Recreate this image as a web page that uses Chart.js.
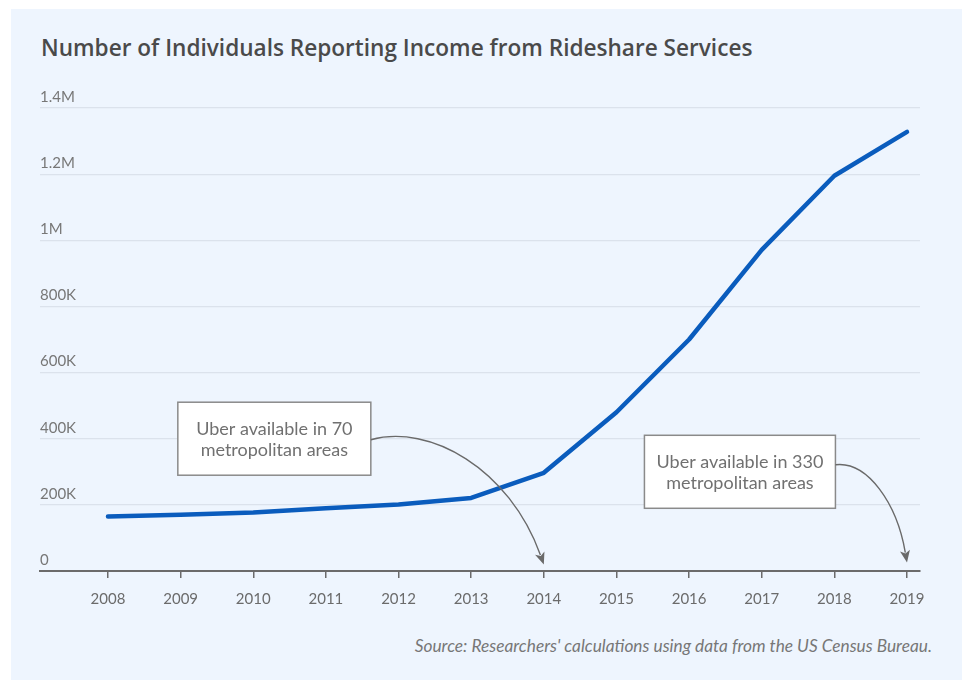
<!DOCTYPE html>
<html>
<head>
<meta charset="utf-8">
<script src="https://cdn.jsdelivr.net/npm/chart.js@4/dist/chart.umd.min.js"></script>
<style>
  html, body { margin: 0; padding: 0; background: #ffffff; }
  body { width: 962px; height: 680px; position: relative; overflow: hidden; }
  #panel { position: absolute; left: 11px; top: 9px; right: 0; bottom: 0; background: #eef5fe; }
  #title { position: absolute; left: 41px; top: 33px; margin: 0; font-family: "Open Sans", Lato, sans-serif; font-weight: 600; font-size: 22.6px; color: #4a4a4a; white-space: nowrap; line-height: 30px; }
  #source { position: absolute; right: 30px; top: 636px; font-family: Lato, "Noto Sans", sans-serif; font-style: italic; font-size: 17.3px; color: #777777; white-space: nowrap; line-height: 20px; }
  #wrap { position: absolute; left: 0; top: 0; width: 962px; height: 680px; }
</style>
</head>
<body>
<div id="panel"></div>
<h1 id="title">Number of Individuals Reporting Income from Rideshare Services</h1>
<div id="source">Source: Researchers' calculations using data from the US Census Bureau.</div>
<div id="wrap"><canvas id="c" width="962" height="680"></canvas></div>
<script>
// ---- data ----
const years = [2008, 2009, 2010, 2011, 2012, 2013, 2014, 2015, 2016, 2017, 2018, 2019];
const individuals = [165000, 170000, 177000, 190000, 201000, 221000, 297000, 480000, 700000, 971000, 1195000, 1328000];
const yTickValues = [0, 200000, 400000, 600000, 800000, 1000000, 1200000, 1400000];
const yTickLabels = ['0', '200K', '400K', '600K', '800K', '1M', '1.2M', '1.4M'];
const noteLines1 = ['Uber available in 70', 'metropolitan areas'];
const noteLines2 = ['Uber available in 330', 'metropolitan areas'];
// annotation anchors in data coordinates: [box centre x, box centre y, arrow target x, arrow target y]
const noteAnchor1 = [2010.29, 400000, 2014, 20000];
const noteAnchor2 = [2016.70, 300000, 2019, 26000];

const FONT = 'Lato, "Noto Sans", sans-serif';

const notes = [
  { lines: noteLines1, anchor: noteAnchor1, w: 193, h: 73, startDy: 1, c1: [0.34, -0.13], c2: [0.80, 0.23] },
  { lines: noteLines2, anchor: noteAnchor2, w: 191, h: 73, startDy: -7, c1: [0.45, -0.04], c2: [0.86, 0.40] }
];

const annotationPlugin = {
  id: 'notes',
  afterDatasetsDraw(chart) {
    const ctx = chart.ctx;
    const xs = chart.scales.x, ys = chart.scales.y;
    ctx.save();
    notes.forEach(n => {
      const cx = xs.getPixelForValue(n.anchor[0]);
      const cy = ys.getPixelForValue(n.anchor[1]);
      const tx = xs.getPixelForValue(n.anchor[2]);
      const ty = ys.getPixelForValue(n.anchor[3]);
      const left = cx - n.w / 2, top = cy - n.h / 2;
      // box
      ctx.fillStyle = '#ffffff';
      ctx.fillRect(left, top, n.w, n.h);
      ctx.strokeStyle = '#8a8a8a';
      ctx.lineWidth = 1.5;
      ctx.strokeRect(left, top, n.w, n.h);
      // text
      ctx.fillStyle = '#707070';
      ctx.font = '18px ' + FONT;
      ctx.textAlign = 'center';
      ctx.textBaseline = 'middle';
      ctx.fillText(n.lines[0], cx, cy - 10);
      ctx.fillText(n.lines[1], cx, cy + 11);
      // arrow
      const sx = left + n.w, sy = cy + n.startDy;
      const dx = tx - sx, dy = ty - sy;
      const p1x = sx + n.c1[0] * dx, p1y = sy + n.c1[1] * dy;
      const p2x = sx + n.c2[0] * dx, p2y = sy + n.c2[1] * dy;
      const ang = Math.atan2(ty - p2y, tx - p2x);
      const hl = 12, hw = 5;
      const bx = tx - Math.cos(ang) * hl, by = ty - Math.sin(ang) * hl;
      ctx.strokeStyle = '#6a6a6a';
      ctx.lineWidth = 1.4;
      ctx.beginPath();
      ctx.moveTo(sx, sy);
      ctx.bezierCurveTo(p1x, p1y, p2x, p2y, bx + Math.cos(ang) * 2, by + Math.sin(ang) * 2);
      ctx.stroke();
      ctx.fillStyle = '#6a6a6a';
      ctx.beginPath();
      ctx.moveTo(tx, ty);
      ctx.lineTo(bx - Math.sin(ang) * hw, by + Math.cos(ang) * hw);
      ctx.lineTo(bx + Math.cos(ang) * 3, by + Math.sin(ang) * 3);
      ctx.lineTo(bx + Math.sin(ang) * hw, by - Math.cos(ang) * hw);
      ctx.closePath();
      ctx.fill();
    });
    ctx.restore();
  }
};

new Chart(document.getElementById('c'), {
  type: 'line',
  data: {
    datasets: [{
      data: years.map((y, i) => ({ x: y, y: individuals[i] })),
      borderColor: '#0a5cbd',
      borderWidth: 4.5,
      pointRadius: 0,
      tension: 0,
      borderCapStyle: 'round',
      borderJoinStyle: 'round',
      fill: false
    }]
  },
  options: {
    responsive: false,
    animation: false,
    devicePixelRatio: 1,
    layout: { padding: { left: 40, right: 42, top: 108, bottom: 60 } },
    plugins: { legend: { display: false }, tooltip: { enabled: false }, title: { display: false } },
    scales: {
      x: {
        type: 'linear',
        min: 2007.064,
        max: 2019.179,
        afterBuildTicks: axis => { axis.ticks = years.map(v => ({ value: v })); },
        ticks: {
          callback: v => String(v),
          font: { family: FONT, size: 15 },
          color: '#6b6b6b',
          padding: 12,
          maxRotation: 0,
          autoSkip: false
        },
        grid: { display: true, drawOnChartArea: false, drawTicks: true, tickLength: 7, color: '#6b6b6b', lineWidth: 1.5 },
        border: { display: true, color: '#6b6b6b', width: 2 }
      },
      y: {
        min: 0,
        max: 1400000,
        afterBuildTicks: axis => { axis.ticks = yTickValues.map(v => ({ value: v })); },
        ticks: {
          callback: (v, i) => yTickLabels[i],
          mirror: true,
          padding: 0,
          labelOffset: -11,
          font: { family: FONT, size: 15 },
          color: '#777777'
        },
        grid: { color: '#dbe2ec', lineWidth: 1.2, drawTicks: false },
        border: { display: false }
      }
    }
  },
  plugins: [annotationPlugin]
});
</script>
</body>
</html>
